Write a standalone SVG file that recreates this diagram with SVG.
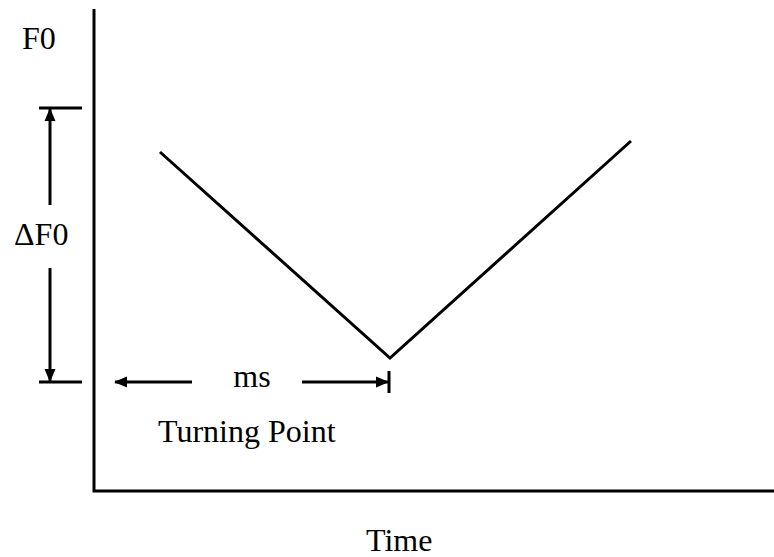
<svg xmlns="http://www.w3.org/2000/svg" width="774" height="557" viewBox="0 0 774 557">
<style>
.ln{stroke:#000;stroke-width:3;fill:none;stroke-linecap:butt}
.t{font-family:"Liberation Serif","Times New Roman",serif;font-size:32px;fill:#000}
</style>
<defs>
<marker id="ah" markerWidth="13" markerHeight="13" viewBox="0 0 13 13" refX="12" refY="6.5" orient="auto-start-reverse" markerUnits="userSpaceOnUse">
<path d="M0,1 L13,6.5 L0,12 Z" fill="#000"/>
</marker>
</defs>
<rect width="774" height="557" fill="#fff"/>
<g id="axes">
<path class="ln" d="M94,9 V491 H774"/>
</g>
<g id="curve">
<path class="ln" d="M160,152 L390,358 L631,141"/>
</g>
<g id="connectors">
<line class="ln" x1="39" y1="108" x2="82" y2="108"/>
<line class="ln" x1="39" y1="382" x2="82" y2="382"/>
<line class="ln" x1="50" y1="205" x2="50" y2="109" marker-end="url(#ah)"/>
<line class="ln" x1="50" y1="268" x2="50" y2="381" marker-end="url(#ah)"/>
<line class="ln" x1="192" y1="382" x2="115" y2="382" marker-end="url(#ah)"/>
<line class="ln" x1="302" y1="382" x2="388" y2="382" marker-end="url(#ah)"/>
<line class="ln" x1="389" y1="371" x2="389" y2="393"/>
</g>
<g id="labels">
<text class="t" x="22" y="49">F0</text>
<text class="t" x="14" y="245">ΔF0</text>
<text class="t" x="252" y="387" text-anchor="middle">ms</text>
<text class="t" x="158" y="442">Turning Point</text>
<text class="t" x="366" y="551">Time</text>
</g>
</svg>
